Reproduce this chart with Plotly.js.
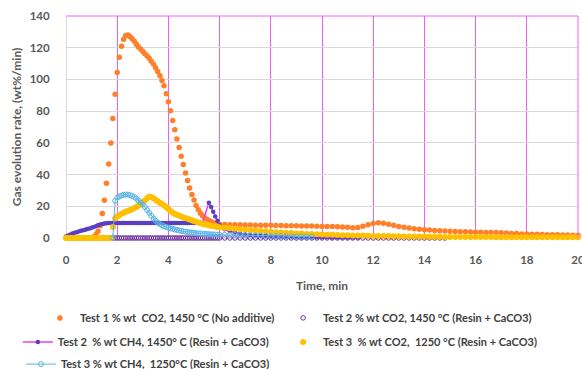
<!DOCTYPE html>
<html><head><meta charset="utf-8">
<script src="https://cdn.plot.ly/plotly-3.0.1.min.js"></script>
<style>html,body{margin:0;padding:0;background:#fff}#chart{width:582px;height:369px}</style>
</head><body><div id="chart"></div>
<script>
const N = null;
// sampling times (min)
const timeEarly = [
  0,0.08,0.17,0.25,0.33,0.42,0.5,0.58,0.67,0.75,0.83,0.92,
  1.0,1.08,1.17,1.25,1.33,1.42,1.5,1.58,1.67,1.75,1.83,1.92,
  2.0,2.08,2.17,2.25,2.33,2.42,2.5,2.58,2.67,2.75,2.83,2.92,
  3.0,3.08,3.17,3.25,3.33,3.42,3.5,3.58,3.67,3.75,3.83,3.92,
  4.0,4.08,4.17,4.25,4.33,4.42,4.5,4.58,4.67,4.75,4.83,4.92,
  5.0,5.08,5.17,5.25,5.33,5.42,5.5,5.58,5.67,5.75,5.83,5.92,
  6.0];
const timeLate = [
  6.2,6.4,6.6,6.8,7.0,7.2,7.4,7.6,7.8,8.0,
  8.2,8.4,8.6,8.8,9.0,9.2,9.4,9.6,9.8,10.0,
  10.2,10.4,10.6,10.8,11.0,11.2,11.4,11.6,11.8,12.0,
  12.2,12.4,12.6,12.8,13.0,13.2,13.4,13.6,13.8,14.0,
  14.2,14.4,14.6,14.8,15.0,15.2,15.4,15.6,15.8,16.0,
  16.2,16.4,16.6,16.8,17.0,17.2,17.4,17.6,17.8,18.0,
  18.2,18.4,18.6,18.8,19.0,19.2,19.4,19.6,19.8,20.0];

// Test 1 % wt CO2, 1450 °C (No additive)
const test1Co2Early = [
  N,N,N,N,N,N,N,N,N,N,N,N,
  N,0.6,2.2,4.3,7.8,15.4,23.8,34.5,46.7,59.9,75.4,90.7,
  104.3,114,121,125.4,127.5,128,127,125.6,124,122.2,120.5,119,
  117.6,116.2,114.8,113.3,111.5,109.5,107.3,105,102.3,99.3,96,91,
  86,80.2,74.1,68.3,62.4,57,51.5,46.3,41,36.2,31.6,27.4,
  24,20.5,17.8,15.6,14,12.8,11.9,11,10.2,9.6,9.1,8.8,
  8.6];
const test1Co2Late = [
  8.5,8.4,8.3,8.3,8.2,8.2,8.1,8.1,8.0,8.0,
  7.9,7.9,7.8,7.8,7.7,7.6,7.5,7.5,7.4,7.3,
  7.2,7.2,7.1,7.0,6.8,6.5,6.6,7.4,8.4,9.2,
  9.6,9.3,8.7,8.0,7.3,6.8,6.3,5.9,5.5,5.2,
  5.0,4.8,4.6,4.4,4.3,4.1,4.0,3.9,3.8,3.7,
  3.6,3.5,3.4,3.4,3.3,3.1,2.9,2.8,2.6,2.5,
  2.4,2.3,2.2,2.1,2.0,2.0,1.9,1.9,1.8,1.8];

// Test 2 % wt CO2, 1450 °C (Resin + CaCO3)
const test2Co2Early = [
  N,N,N,N,N,N,N,N,N,N,N,N,
  N,N,N,N,N,N,N,N,N,N,0,0,
  0,0,0,0,0,0,0,0,0,0,0,0,
  0,0,0,0,0,0,0,0,0,0,0,0,
  0,0,0,0,0,0,0,0,0,0,0,0,
  0,0,0,0,0,0,0,0,0,0,0,0,
  0];
const test2Co2Late = [
  0,0,0,0,0,0,0,0,0,0,
  0,0,0,0,0,0,0,0,0,0,
  0,0,0,0,0,0,0,0,0,0,
  0,0,0,0,0,0,0,0,0,0,
  0,0,0,0,N,N,N,N,N,N,
  N,N,N,N,N,N,N,N,N,N,
  N,N,N,N,N,N,N,N,N,N];

// Test 2 % wt CH4, 1450° C (Resin + CaCO3)
const test2Ch4Early = [
  1.0,1.6,2.2,2.8,3.3,3.7,4.1,4.5,4.9,5.2,5.6,6.0,
  6.4,6.9,7.4,8.0,8.5,8.9,9.1,9.3,9.4,9.4,9.4,9.4,
  9.4,9.4,9.4,9.4,9.5,9.5,9.5,9.5,9.5,9.5,9.5,9.5,
  9.5,9.5,9.5,9.5,9.5,9.5,9.5,9.5,9.5,9.5,9.4,9.4,
  9.4,9.4,9.4,9.4,9.4,9.4,9.4,9.4,9.4,9.4,9.4,9.4,
  9.4,9.4,9.4,9.4,9.5,N,N,22.3,19.5,16.5,13.6,10.8,
  8.0];
const test2Ch4Late = [
  5.5,4.3,3.5,2.9,2.4,2.0,1.7,1.4,1.2,1.0,
  0.9,0.8,0.7,0.6,0.6,0.5,0.5,0.5,0.4,0.4,
  0.4,0.3,0.3,0.3,0.3,0.3,0.3,N,N,N,
  N,N,N,N,N,N,N,N,N,N,
  N,N,N,N,N,N,N,N,N,N,
  N,N,N,N,N,N,N,N,N,N,
  N,N,N,N,N,N,N,N,N,N];

// Test 3 % wt CO2, 1250 °C (Resin + CaCO3)
const test3Co2Early = [
  0,0,0,0,0,0,0,0,0,0,0,0,
  0,0,0,0,0,0,0,0,0,0,7.0,12.3,
  13.5,14.4,15.3,16.0,16.5,17.0,17.6,18.2,18.9,19.6,20.3,21.3,
  22.5,23.7,25.0,26.0,25.8,25.0,24.1,23.2,22.3,21.4,20.5,19.4,
  18.3,17.1,16.0,15.2,14.6,14.0,13.5,13.0,12.6,12.2,11.7,11.2,
  10.7,10.2,9.8,9.4,9.0,8.7,8.4,8.1,7.8,7.5,7.2,7.0,
  6.8];
const test3Co2Late = [
  6.5,6.2,5.8,5.5,5.2,4.9,4.7,4.4,4.2,4.0,
  3.7,3.5,3.3,3.1,2.9,2.8,2.6,2.5,2.3,2.2,
  2.1,2.0,1.9,1.8,1.7,1.6,1.5,1.5,1.4,1.3,
  1.3,1.2,1.2,1.1,1.1,1.0,1.0,1.0,0.9,0.9,
  0.8,0.8,0.8,0.7,0.7,0.7,0.6,0.6,0.6,0.6,
  0.6,0.6,0.6,0.5,0.5,0.5,0.5,0.5,0.5,0.5,
  0.5,0.5,0.5,0.5,0.5,0.5,0.5,0.5,0.5,0.5];

// Test 3 % wt CH4, 1250°C (Resin + CaCO3)
const test3Ch4Early = [
  N,N,N,N,N,N,N,N,N,N,N,N,
  N,N,N,N,N,N,N,N,N,N,0.3,23.5,
  25.5,26.2,26.8,27.2,27.4,27.4,27.0,26.5,25.8,24.8,23.6,22.4,
  21.0,19.5,17.6,15.8,14.0,12.3,10.9,9.7,8.7,8.0,7.4,6.9,
  6.5,6.1,5.8,5.4,5.1,4.8,4.5,4.2,4.0,3.8,3.6,3.4,
  3.2,3.0,2.9,2.8,2.7,2.6,2.5,2.4,2.3,2.2,2.2,2.1,
  2.0];
const test3Ch4Late = [
  2.0,1.9,1.9,1.8,1.7,1.6,1.6,1.5,1.4,1.3,
  1.3,1.2,1.1,1.1,1.0,0.9,0.9,0.8,N,N,
  N,N,N,N,N,N,N,N,N,N,
  N,N,N,N,N,N,N,N,N,N,
  N,N,N,N,N,N,N,N,N,N,
  N,N,N,N,N,N,N,N,N,N,
  N,N,N,N,N,N,N,N,N,N];

const seriesNames = [
  'Test 1 % wt\u00a0 CO2, 1450 °C (No additive)',
  'Test 2 % wt CO2, 1450 °C (Resin + CaCO3)',
  'Test 2\u00a0 % wt CH4, 1450° C (Resin + CaCO3)',
  'Test 3\u00a0 % wt CO2,\u00a0 1250 °C (Resin + CaCO3)',
  'Test 3 % wt CH4,\u00a0 1250°C (Resin + CaCO3)'
];
const xTicks = [0,2,4,6,8,10,12,14,16,18,20];
const yTicks = [0,20,40,60,80,100,120,140];

const time = timeEarly.concat(timeLate);
const FONT = 'Lato, "Open Sans", sans-serif';

const traces = [
  {x: time, y: test1Co2Early.concat(test1Co2Late), name: seriesNames[0], legend: 'legend',
   type: 'scatter', mode: 'markers', cliponaxis: false,
   marker: {color: '#FF7F2A', size: 5.5}},
  {x: time, y: test2Co2Early.concat(test2Co2Late), name: seriesNames[1], legend: 'legend2',
   type: 'scatter', mode: 'markers', cliponaxis: false,
   marker: {color: '#7030A0', size: 4.5, symbol: 'circle-open', line: {width: 1, color: '#7030A0'}}},
  {x: time, y: test2Ch4Early.concat(test2Ch4Late), name: seriesNames[2], legend: 'legend3',
   type: 'scatter', mode: 'lines+markers', connectgaps: true, cliponaxis: false,
   line: {color: '#EE3DEE', width: 1.5},
   marker: {color: '#5A3FC2', size: 4.5}},
  {x: time, y: test3Co2Early.concat(test3Co2Late), name: seriesNames[3], legend: 'legend4',
   type: 'scatter', mode: 'markers', cliponaxis: false,
   marker: {color: '#FFC000', size: 6}},
  {x: time, y: test3Ch4Early.concat(test3Ch4Late), name: seriesNames[4], legend: 'legend5',
   type: 'scatter', mode: 'lines+markers', cliponaxis: false,
   line: {color: '#5BB4E5', width: 1},
   marker: {color: '#5BB4E5', size: 5, symbol: 'circle-open', line: {width: 1, color: '#5BB4E5'}}}
];

const legFont = {family: FONT, size: 11, color: '#404040', weight: 700};
function leg(x, y) {
  return {x: x, y: y, xanchor: 'left', yanchor: 'middle',
          bgcolor: 'rgba(0,0,0,0)', borderwidth: 0, font: legFont, itemwidth: 30, itemclick: false};
}

const layout = {
  width: 582, height: 369,
  margin: {l: 66, r: 4, t: 16, b: 131, autoexpand: false},
  paper_bgcolor: '#ffffff', plot_bgcolor: '#ffffff',
  font: {family: FONT, size: 10, color: '#595959'},
  xaxis: {
    range: [0, 20], tickvals: xTicks, ticktext: xTicks.map(String), automargin: false,
    showgrid: true, gridcolor: '#F060F0', gridwidth: 1,
    zeroline: true, zerolinecolor: '#D9D9D9', zerolinewidth: 1,
    showline: false, ticks: 'outside', ticklen: 11, tickcolor: 'rgba(0,0,0,0)',
    ticklabeloverflow: 'allow',
    tickfont: {family: FONT, size: 11.5, color: '#595959', weight: 700},
    title: {text: 'Time, min', standoff: 16,
            font: {family: FONT, size: 12, color: '#595959', weight: 700}}
  },
  yaxis: {
    range: [0, 140], tickvals: yTicks, ticktext: yTicks.map(String), automargin: false,
    showgrid: true, gridcolor: '#D9D9D9', gridwidth: 1,
    zeroline: true, zerolinecolor: '#D9D9D9', zerolinewidth: 1,
    showline: false, ticks: 'outside', ticklen: 13, tickcolor: 'rgba(0,0,0,0)',
    tickfont: {family: FONT, size: 11.5, color: '#595959', weight: 700},
    title: {text: 'Gas evolution rate, (wt%/min)', standoff: 5,
            font: {family: FONT, size: 12, color: '#595959', weight: 700}}
  },
  shapes: [
    {type: 'line', xref: 'paper', yref: 'paper', x0: 0, x1: 1, y0: 1, y1: 1,
     line: {color: '#F060F0', width: 1}},
    {type: 'line', xref: 'paper', yref: 'paper', x0: 1, x1: 1, y0: 0, y1: 1,
     line: {color: '#F060F0', width: 1}}
  ],
  legend: leg(-0.051, -0.36),
  legend2: leg(0.424, -0.36),
  legend3: leg(-0.094, -0.468),
  legend4: leg(0.424, -0.468),
  legend5: leg(-0.088, -0.568),
  showlegend: true
};

Plotly.newPlot('chart', traces, layout, {displayModeBar: false, staticPlot: true});
</script></body></html>
